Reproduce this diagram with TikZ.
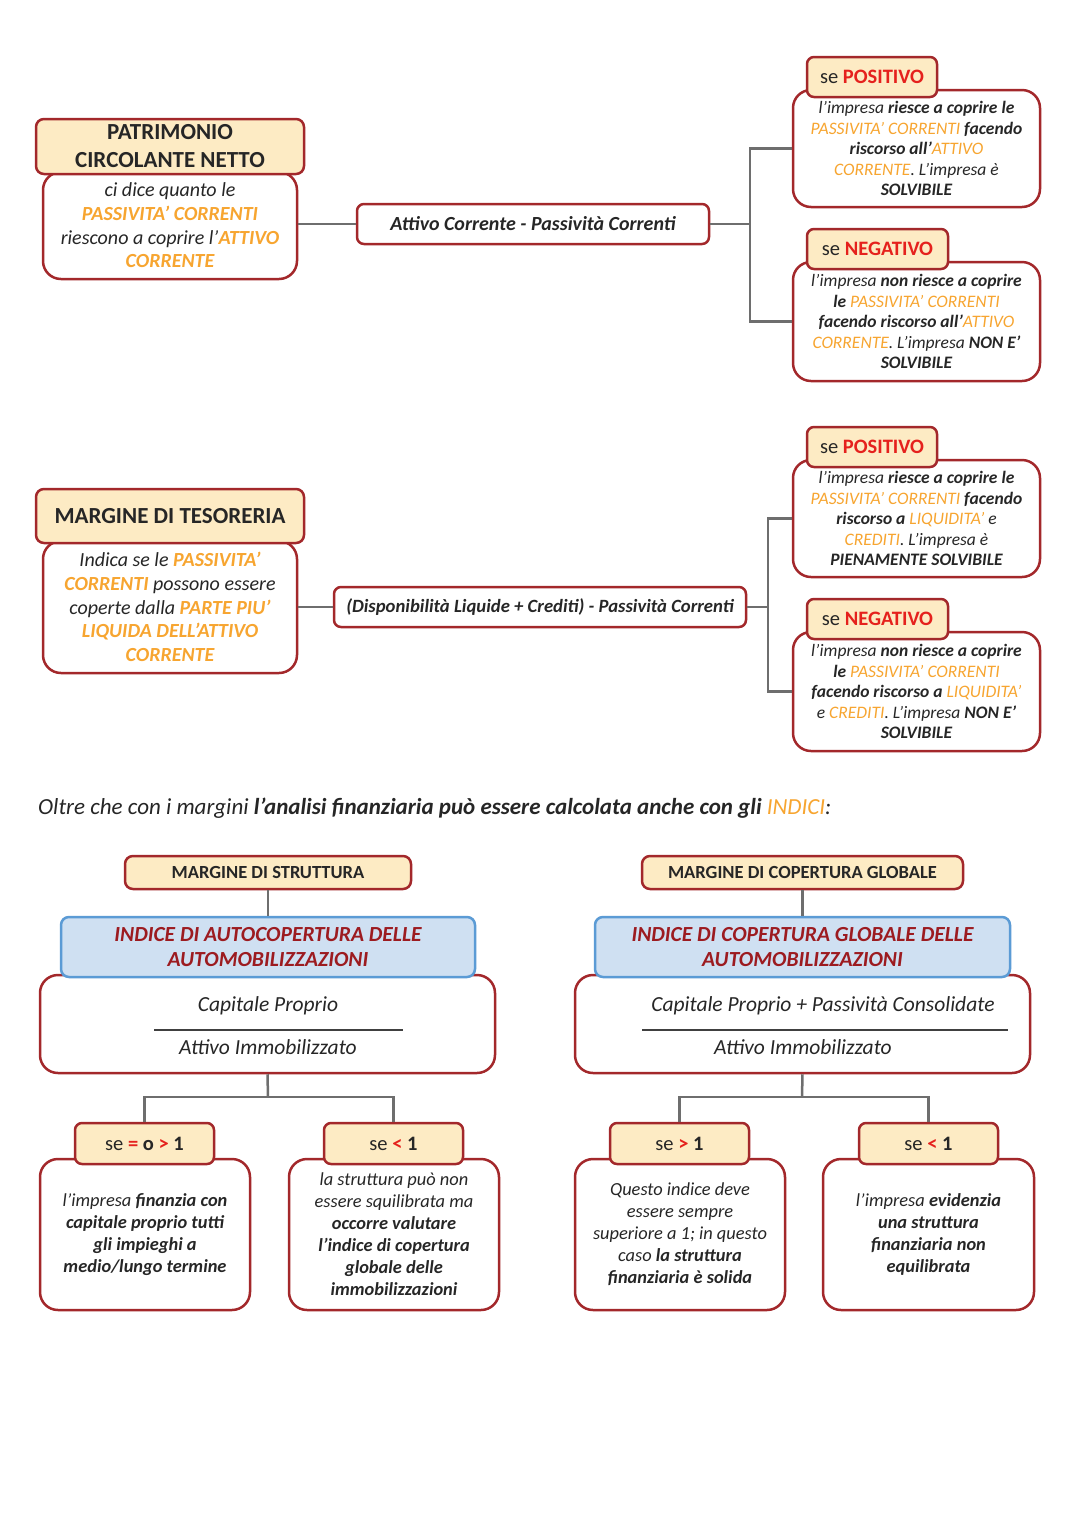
\documentclass[tikz,border=0pt]{standalone}
\usepackage{fontspec}
\setmainfont{Carlito}
\usetikzlibrary{positioning}

\definecolor{bordo}{HTML}{A3282B}
\definecolor{giallo}{HTML}{FDEBC4}
\definecolor{azzurro}{HTML}{CFE0F2}
\definecolor{blubordo}{HTML}{5B9BD5}
\definecolor{arancio}{HTML}{F7A530}
\definecolor{rosso}{HTML}{E5211D}
\definecolor{grigio}{HTML}{6E6E6E}
\definecolor{testo}{HTML}{262626}
\definecolor{cremisi}{HTML}{9C1B20}

\newcommand{\inar}[1]{{\color{arancio}#1}}
\newcommand{\inarb}[1]{{\color{arancio}\bfseries #1}}
\newcommand{\inrosso}[1]{{\color{rosso}\bfseries #1}}

\tikzset{
  every node/.style={text=testo},
  wh/.style 2 args={minimum width=#1pt, minimum height=#2pt, inner sep=0pt},
  titolo/.style={draw=bordo, fill=giallo, line width=2.5pt, rounded corners=8pt, align=center, font=\bfseries\fontsize{23}{28}\selectfont},
  corpo/.style={draw=bordo, fill=white, line width=2.5pt, rounded corners=18pt, align=center, font=\itshape\fontsize{20}{23.7}\selectfont},
  formula/.style={draw=bordo, fill=white, line width=2.5pt, rounded corners=7pt, font=\bfseries\itshape\fontsize{20}{22}\selectfont},
  etichetta/.style={draw=bordo, fill=giallo, line width=2.5pt, rounded corners=7pt, font=\fontsize{20.5}{22}\selectfont},
  esito/.style={corpo, font=\itshape\fontsize{17.5}{20.5}\selectfont},
  esitob/.style={corpo, font=\itshape\fontsize{18.4}{22}\selectfont},
  margine/.style={titolo, font=\bfseries\fontsize{18.5}{20}\selectfont},
  indice/.style={draw=blubordo, fill=azzurro, line width=2.5pt, rounded corners=8pt, align=center, text=cremisi, font=\bfseries\itshape\fontsize{21.5}{25}\selectfont},
  frazione/.style={font=\itshape\fontsize{21.5}{23}\selectfont},
  link/.style={draw=grigio, line width=2.5pt},
}

\begin{document}
\begin{tikzpicture}[x=1pt, y=-1pt]
\fill[white] (0,0) rectangle (1080,1527);
\useasboundingbox (0,0) rectangle (1080,1527);

% patrimonio circolante netto
\node[corpo, wh={254}{107}] (pcnb) at (170,225.5) {ci dice quanto le\\ \inarb{PASSIVITA’ CORRENTI}\\ riescono a coprire l’\inarb{ATTIVO}\\ \inarb{CORRENTE}};
\node[titolo, wh={268}{55}] (pcnt) at (170,146.5) {PATRIMONIO\\ CIRCOLANTE NETTO};
\node[formula, wh={352}{40}] (acf) at (533,224) {Attivo Corrente - Passività Correnti};
\coordinate (s1) at (750,224);

\node[esito, wh={247}{117}] (ep1) at (916.5,148.5) {l’impresa \textbf{riesce a coprire le}\\ \inar{PASSIVITA’ CORRENTI} \textbf{facendo}\\ \textbf{riscorso all’}\inar{ATTIVO}\\ \inar{CORRENTE}. L’impresa è\\ \textbf{SOLVIBILE}};
\node[etichetta, wh={130}{40}] (tp1) at (872,77) {se \inrosso{POSITIVO}};
\node[esito, wh={247}{119}] (en1) at (916.5,321.5) {l’impresa \textbf{non riesce a coprire}\\ \textbf{le} \inar{PASSIVITA’ CORRENTI}\\ \textbf{facendo riscorso all’}\inar{ATTIVO}\\ \inar{CORRENTE}. L’impresa \textbf{NON E’}\\ \textbf{SOLVIBILE}};
\node[etichetta, wh={141}{40}] (tn1) at (877.5,249) {se \inrosso{NEGATIVO}};

\draw[link] (pcnb.east |- acf.west) -- (acf.west);
\draw[link] (acf.east) -- (s1);
\draw[link] (ep1.west) -| (s1) |- (en1.west);

% margine di tesoreria
\node[corpo, wh={254}{132}] (mdtb) at (170,607) {Indica se le \inarb{PASSIVITA’}\\ \inarb{CORRENTI} possono essere\\ coperte dalla \inarb{PARTE PIU’}\\ \inarb{LIQUIDA DELL’ATTIVO}\\ \inarb{CORRENTE}};
\node[titolo, wh={268}{54}] (mdt) at (170,516) {MARGINE DI TESORERIA};
\node[formula, wh={412}{40}, font=\bfseries\itshape\fontsize{18.7}{22}\selectfont] (dlc) at (540,607) {(Disponibilità Liquide + Crediti) - Passività Correnti};
\coordinate (s2) at (768,607);

\node[esito, wh={247}{117}] (ep2) at (916.5,518.5) {l’impresa \textbf{riesce a coprire le}\\ \inar{PASSIVITA’ CORRENTI} \textbf{facendo}\\ \textbf{riscorso a} \inar{LIQUIDITA’} e\\ \inar{CREDITI}. L’impresa è\\ \textbf{PIENAMENTE SOLVIBILE}};
\node[etichetta, wh={130}{40}] (tp2) at (872,447) {se \inrosso{POSITIVO}};
\node[esito, wh={247}{119}] (en2) at (916.5,691.5) {l’impresa \textbf{non riesce a coprire}\\ \textbf{le} \inar{PASSIVITA’ CORRENTI}\\ \textbf{facendo riscorso a} \inar{LIQUIDITA’}\\ e \inar{CREDITI}. L’impresa \textbf{NON E’}\\ \textbf{SOLVIBILE}};
\node[etichetta, wh={141}{40}] (tn2) at (877.5,619) {se \inrosso{NEGATIVO}};

\draw[link] (mdtb.east) -- (dlc.west);
\draw[link] (dlc.east) -- (s2);
\draw[link] (ep2.west) -| (s2) |- (en2.west);

% frase
\node[anchor=west, inner sep=0pt, font=\itshape\fontsize{23}{26}\selectfont] (frase) at (38,808) {Oltre che con i margini \textbf{l'analisi finanziaria può essere calcolata anche con gli} \inar{INDICI}:};

% margine di struttura
\node[margine, wh={286}{33}] (mds) at (268,872.5) {MARGINE DI STRUTTURA};
\node[corpo, wh={455}{98}] (fam) at (267.5,1024) {};
\node[indice, wh={414}{60}] (iam) at (268,947) {INDICE DI AUTOCOPERTURA DELLE\\ AUTOMOBILIZZAZIONI};
\node[frazione] (cp) at (268,1006) {Capitale Proprio};
\node[frazione] (ai) at (268,1047) {Attivo Immobilizzato};
\draw[draw=black!75, line width=2.5pt] (154,1030) -- (403,1030);
\coordinate (j1) at (268,1097);

\node[esitob, wh={210}{151}] (el1) at (145,1234.5) {l’impresa \textbf{finanzia con}\\ \textbf{capitale proprio tutti}\\ \textbf{gli impieghi a}\\ \textbf{medio/lungo termine}};
\node[etichetta, wh={139}{41}] (tl1) at (144.5,1143.5) {se \inrosso{=} \textbf{o} \inrosso{>} \textbf{1}};
\node[esitob, wh={210}{151}] (el2) at (394,1234.5) {la struttura può non\\ essere squilibrata ma\\ \textbf{occorre valutare}\\ \textbf{l’indice di copertura}\\ \textbf{globale delle}\\ \textbf{immobilizzazioni}};
\node[etichetta, wh={139}{41}] (tl2) at (393.5,1143.5) {se \inrosso{<} \textbf{1}};

\draw[link] (mds) -- (iam);
\draw[link] (fam.south) -- (j1);
\draw[link] (j1) -| (tl1.north);
\draw[link] (j1) -| (tl2.north);

% margine di copertura globale
\node[margine, wh={321}{33}] (mcg) at (802.5,872.5) {MARGINE DI COPERTURA GLOBALE};
\node[corpo, wh={455}{98}] (fcg) at (802.5,1024) {};
\node[indice, wh={415}{60}] (icg) at (802.5,947) {INDICE DI COPERTURA GLOBALE DELLE\\ AUTOMOBILIZZAZIONI};
\node[frazione] (cpp) at (823,1006) {Capitale Proprio + Passività Consolidate};
\node[frazione] (ai2) at (803,1047) {Attivo Immobilizzato};
\draw[draw=black!75, line width=2.5pt] (642,1030) -- (1008,1030);
\coordinate (j2) at (802,1097);

\node[esitob, wh={210}{151}] (er1) at (680,1234.5) {Questo indice deve\\ essere sempre\\ superiore a 1; in questo\\ caso \textbf{la struttura}\\ \textbf{finanziaria è solida}};
\node[etichetta, wh={139}{41}] (tr1) at (679.5,1143.5) {se \inrosso{>} \textbf{1}};
\node[esitob, wh={211}{151}] (er2) at (928.5,1234.5) {l’impresa \textbf{evidenzia}\\ \textbf{una struttura}\\ \textbf{finanziaria non}\\ \textbf{equilibrata}};
\node[etichetta, wh={139}{41}] (tr2) at (928.5,1143.5) {se \inrosso{<} \textbf{1}};

\draw[link] (mcg) -- (icg);
\draw[link] (fcg.south) -- (j2);
\draw[link] (j2) -| (tr1.north);
\draw[link] (j2) -| (tr2.north);
\end{tikzpicture}
\end{document}
